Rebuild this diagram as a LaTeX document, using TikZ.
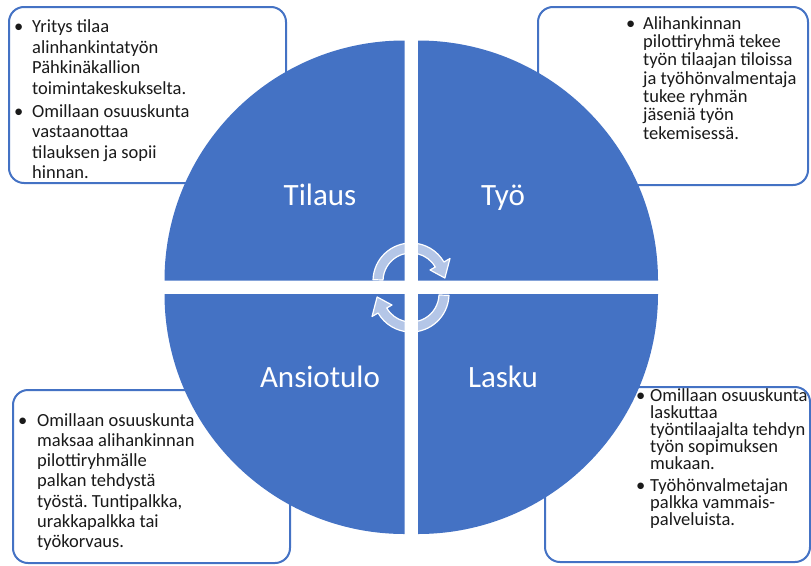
\documentclass[tikz,border=0pt]{standalone}
\usepackage{fontspec}
\setmainfont{Carlito}
\frenchspacing
\definecolor{obl}{HTML}{4472C4}
\definecolor{txt}{HTML}{1A1A1A}
\begin{document}
\begin{tikzpicture}[x=1pt,y=-1pt,
  quarter/.style={fill=obl, draw=none},
  infobox/.style={draw=obl, line width=2pt, rounded corners=15pt, fill=white},
  boxline/.style={anchor=base west, inner sep=0pt, text=txt, font=\fontsize{18.5}{20}\selectfont},
  bul/.style={anchor=base west, inner sep=0pt, text=txt, font=\fontsize{18.5}{20}\selectfont},
  qlabel/.style={anchor=base, inner sep=0pt, text=white, font=\fontsize{31}{36}\selectfont},
  cyc/.style={fill=white, fill opacity=0.6, draw=white, line width=1.2pt, line join=round}]
\useasboundingbox (0,0) rectangle (811,565);

% text boxes (behind the circle)
\draw[infobox] (9,7) rectangle (286,183);
\draw[infobox] (538,7) rectangle (808,185);
\draw[infobox] (13,390) rectangle (290,563);
\draw[infobox] (545,387) rectangle (810,562);

% four quarters
\fill[quarter] (404.5,280.5) -- (164.5,280.5) arc[start angle=180, end angle=270, radius=240] -- cycle;
\fill[quarter] (418,280.5) -- (418,40.5) arc[start angle=270, end angle=360, radius=240] -- cycle;
\fill[quarter] (418,294) -- (658,294) arc[start angle=0, end angle=90, radius=240] -- cycle;
\fill[quarter] (404.5,294) -- (404.5,534) arc[start angle=90, end angle=180, radius=240] -- cycle;

% cycle arrows
\draw[cyc] ([shift={(182:38)}]411,281) arc[start angle=182, end angle=330, radius=38]
  -- ([shift={(330:45)}]411,281) -- ([shift={(355:34)}]411,281)
  -- ([shift={(330:22)}]411,281) -- ([shift={(330:28)}]411,281)
  arc[start angle=330, end angle=182, radius=28] -- cycle;
\draw[cyc] ([shift={(2:38)}]411,294) arc[start angle=2, end angle=150, radius=38]
  -- ([shift={(150:45)}]411,294) -- ([shift={(175:34)}]411,294)
  -- ([shift={(150:22)}]411,294) -- ([shift={(150:28)}]411,294)
  arc[start angle=150, end angle=2, radius=28] -- cycle;

% quarter labels
\node[qlabel] (tilaus) at (320,205) {Tilaus};
\node[qlabel] (tyo) at (503,205) {Työ};
\node[qlabel] (ansio) at (320,387) {Ansiotulo};
\node[qlabel] (lasku) at (503,387) {Lasku};

% top-left box
\node[bul] (tlb1) at (14,32.6) {•};
\foreach \t [count=\i from 0] in {Yritys tilaa, alinhankintatyön, Pähkinäkallion, toimintakeskukselta.}
  \node[boxline, name=tla\i] at (32,{32.6+\i*20.5}) {\t};
\node[bul] (tlb2) at (14,117.1) {•};
\foreach \t [count=\i from 0] in {Omillaan osuuskunta, vastaanottaa, tilauksen ja sopii, hinnan.}
  \node[boxline, name=tlb\i] at (32,{117.1+\i*20.5}) {\t};

% top-right box
\node[bul] (trb1) at (626,29.3) {•};
\foreach \t [count=\i from 0] in {Alihankinnan, pilottiryhmä tekee, työn tilaajan tiloissa, ja työhönvalmentaja, tukee ryhmän, jäseniä työn, tekemisessä.}
  \node[boxline, name=tra\i] at (643,{29.3+\i*18.3}) {\t};

% bottom-left box
\node[bul] (blb1) at (18,426) {•};
\foreach \t [count=\i from 0] in {Omillaan osuuskunta, maksaa alihankinnan, pilottiryhmälle, palkan tehdystä, {työstä. Tuntipalkka,}, urakkapalkka tai, työkorvaus.}
  \node[boxline, name=bla\i] at (37,{426+\i*20.3}) {\t};

% bottom-right box
\node[bul] (brb1) at (636,401) {•};
\foreach \t [count=\i from 0] in {Omillaan osuuskunta, laskuttaa, työntilaajalta tehdyn, työn sopimuksen, mukaan.}
  \node[boxline, name=bra\i] at (650,{401+\i*17}) {\t};
\node[bul] (brb2) at (636,491) {•};
\foreach \t [count=\i from 0] in {Työhönvalmetajan, palkka vammais-, palveluista.}
  \node[boxline, name=brb\i] at (650,{491+\i*17}) {\t};
\end{tikzpicture}
\end{document}
